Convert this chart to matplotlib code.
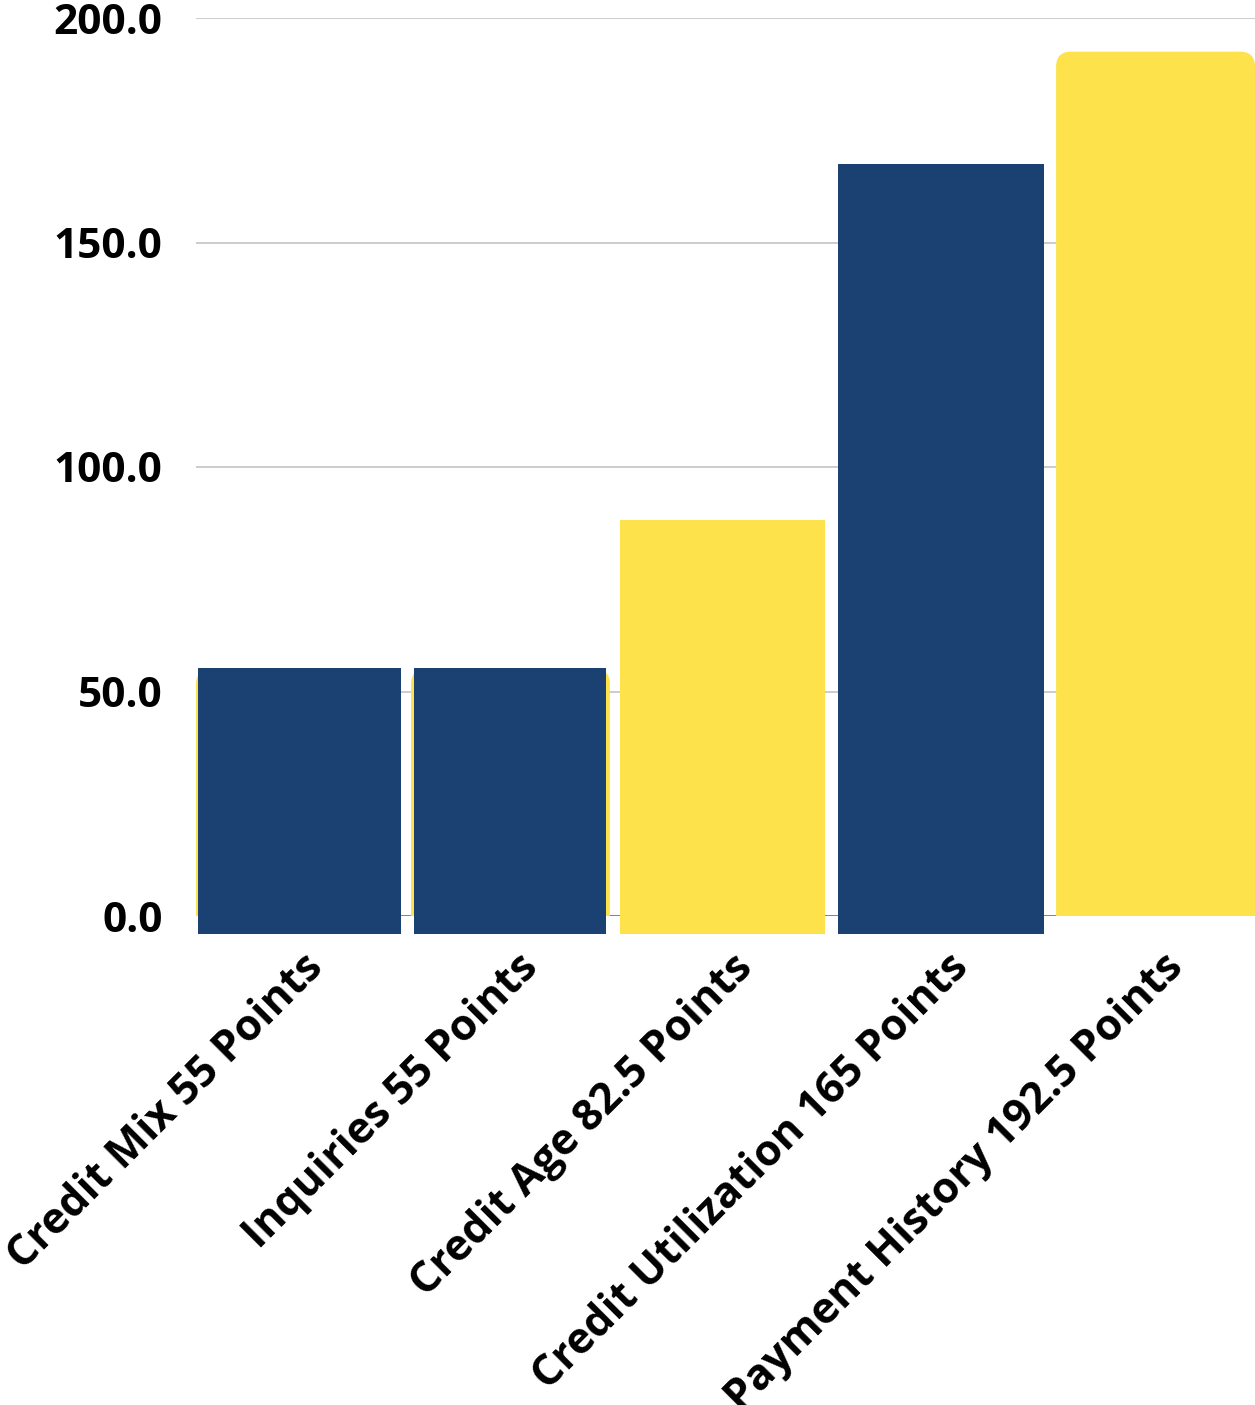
import matplotlib
matplotlib.use("Agg")
import matplotlib.pyplot as plt
from matplotlib.patches import FancyBboxPatch

# ---- data ----
categories = ["Credit Mix 55 Points", "Inquiries 55 Points", "Credit Age 82.5 Points",
              "Credit Utilization 165 Points", "Payment History 192.5 Points"]
base_values = [55, 55, 82.5, 165, 192.5]          # rounded yellow bars
overlay_values = [55.2, 55.2, 88.2, 167.5]         # square overlay bars (first four)
overlay_colors = ["#1A4172", "#1A4172", "#FDE24B", "#1A4172"]
y_ticks = [0, 50, 100, 150, 200]

# ---- layout / style ----
YELLOW = "#FDE24B"
overlay_left = [-0.4532, 0.5503, 1.5074, 2.5248]
overlay_width = [0.943, 0.892, 0.957, 0.957]
overlay_bottom = -3.9
bar_width = 0.925

plt.rcParams['font.family'] = ['Open Sans', 'DejaVu Sans']
fig = plt.figure(figsize=(12.55, 14.05), dpi=100)
ax = fig.add_axes([196/1255, (1405-916)/1405, 1 - 196/1255, (916-18)/1405])

ax.set_xlim(-bar_width/2, len(categories) - 1 + bar_width/2)
ax.set_ylim(0, 200)

# gridlines
for t in y_ticks:
    if t == 0:
        ax.axhline(t, color="#777777", lw=2, zorder=1)
    else:
        ax.axhline(t, color="#cccccc", lw=1.4, zorder=1)

# base rounded bars
bars = ax.bar(range(len(categories)), base_values, width=bar_width, color=YELLOW, zorder=2)
ppx = (ax.get_xlim()[1]-ax.get_xlim()[0]) / (1255-196)
ppy = 200 / (916-18)
r = 15 * ppx
for b in bars:
    x0, w, h = b.get_x(), b.get_width(), b.get_height()
    b.set_visible(False)
    p = FancyBboxPatch((x0 + r, -20), w - 2*r, h + 20 - r*ppy/ppx,
                       boxstyle=f"round,pad={r},rounding_size={r}",
                       mutation_aspect=ppy/ppx, facecolor=YELLOW, edgecolor="none",
                       zorder=2, clip_on=True)
    ax.add_patch(p)

# overlay square bars
ax.bar(overlay_left, [v - overlay_bottom for v in overlay_values], width=overlay_width,
       bottom=overlay_bottom, align="edge", color=overlay_colors, zorder=3, clip_on=False)

for s in ax.spines.values():
    s.set_visible(False)

ax.set_yticks(y_ticks)
ax.set_yticklabels([f"{t:.1f}" for t in y_ticks], fontsize=30.5, fontweight="bold")
ax.tick_params(axis="y", length=0, pad=24)
ax.set_xticks([])

for i, lab in enumerate(categories):
    ax.annotate(lab, xy=(i, 0), xycoords=("data", "axes fraction"),
                xytext=(6, -30), textcoords="offset pixels",
                rotation=45, ha="right", va="top", rotation_mode="anchor",
                fontsize=31, fontweight="bold", annotation_clip=False)

fig.savefig("out.png", dpi=100)
